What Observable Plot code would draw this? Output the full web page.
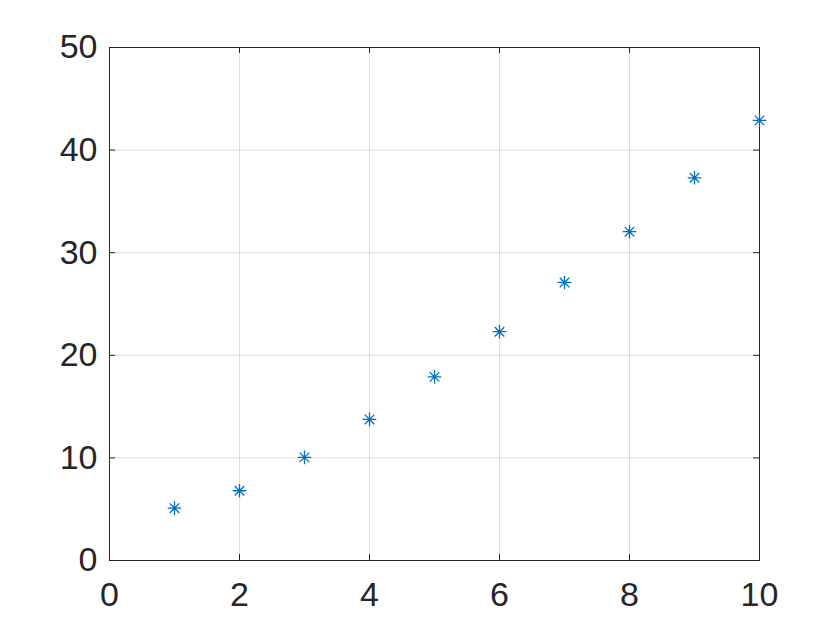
<!DOCTYPE html>
<html>
<head>
<meta charset="utf-8">
<script src="https://cdn.jsdelivr.net/npm/d3@7"></script>
<script src="https://cdn.jsdelivr.net/npm/@observablehq/plot@0.6"></script>
<style>
  html, body { margin: 0; padding: 0; background: #fff; }
  #chart { width: 840px; height: 630px; }
</style>
</head>
<body>
<div id="chart"></div>
<script>
const xValues = [1, 2, 3, 4, 5, 6, 7, 8, 9, 10];
const yValues = [5.1, 6.8, 10.05, 13.75, 17.9, 22.3, 27.1, 32.05, 37.3, 42.9];
const xTicks = [0, 2, 4, 6, 8, 10];
const yTicks = [0, 10, 20, 30, 40, 50];

const data = xValues.map((x, i) => ({x, y: yValues[i]}));

const W = 840, H = 630;
const mL = 109, mR = 81, mT = 47, mB = 70;
const fw = W - mL - mR, fh = H - mT - mB;
const axisColor = "#262626";
const markColor = "#0072BD";
const tickLen = 6;

const asterisk = {
  draw(context, size) {
    const r = Math.sqrt(size / Math.PI);
    const d = r * 0.7;
    context.moveTo(-r, 0); context.lineTo(r, 0);
    context.moveTo(0, -r); context.lineTo(0, r);
    context.moveTo(-d, -d); context.lineTo(d, d);
    context.moveTo(-d, d); context.lineTo(d, -d);
  }
};

const chart = Plot.plot({
  width: W,
  height: H,
  marginLeft: mL,
  marginRight: mR,
  marginTop: mT,
  marginBottom: mB,
  style: {fontFamily: "Helvetica, Arial, 'Liberation Sans', sans-serif", color: axisColor, background: "#fff"},
  x: {domain: [0, 10]},
  y: {domain: [0, 50]},
  marks: [
    Plot.gridX(xTicks, {stroke: axisColor, strokeOpacity: 0.15, strokeWidth: 1}),
    Plot.gridY(yTicks, {stroke: axisColor, strokeOpacity: 0.15, strokeWidth: 1}),
    Plot.axisX(xTicks, {anchor: "bottom", tickSize: 0, tickPadding: 21, fontSize: 34, fill: axisColor, label: null}),
    Plot.axisY(yTicks, {anchor: "left", tickSize: 0, tickPadding: 12, fontSize: 34, fill: axisColor, label: null}),
    Plot.tickX(xTicks, {x: d => d, insetTop: fh - tickLen, stroke: axisColor}),
    Plot.tickX(xTicks, {x: d => d, insetBottom: fh - tickLen, stroke: axisColor}),
    Plot.tickY(yTicks, {y: d => d, insetRight: fw - tickLen, stroke: axisColor}),
    Plot.tickY(yTicks, {y: d => d, insetLeft: fw - tickLen, stroke: axisColor}),
    Plot.frame({stroke: axisColor, strokeWidth: 1}),
    Plot.dot(data, {x: "x", y: "y", symbol: asterisk, r: 6.8, stroke: markColor, strokeWidth: 1.3, fill: "none"})
  ]
});

document.getElementById("chart").appendChild(chart);
</script>
</body>
</html>
